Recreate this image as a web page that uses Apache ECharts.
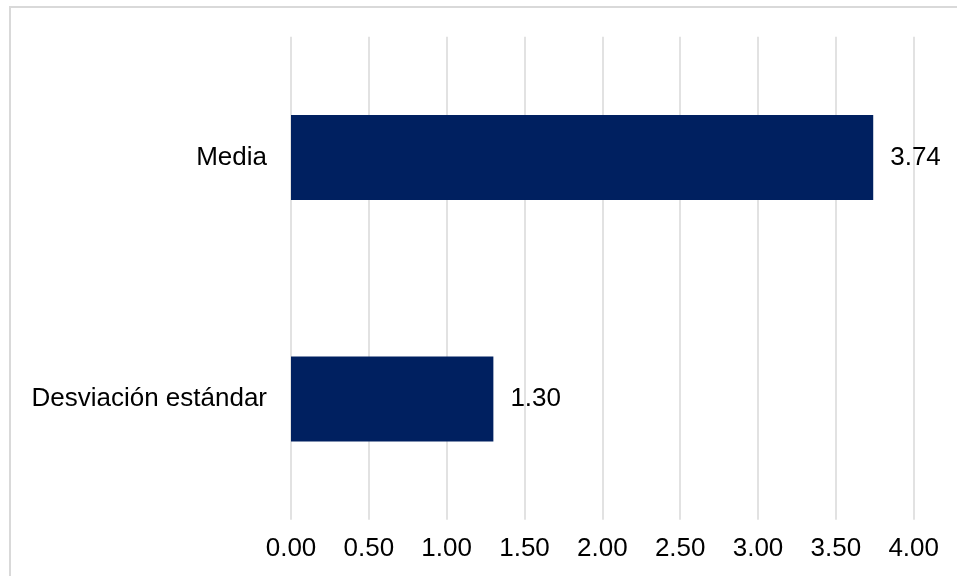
<!DOCTYPE html>
<html>
<head>
<meta charset="utf-8">
<script src="https://cdn.jsdelivr.net/npm/echarts@6/dist/echarts.min.js"></script>
<style>
html,body{margin:0;padding:0;background:#fff;}
#c{width:957px;height:576px;}
</style>
</head>
<body>
<div id="c"></div>
<script>
const categories = ['Desviación estándar', 'Media'];
const values = [1.30, 3.74];
const xTicks = { min: 0, max: 4, interval: 0.5 };

const chart = echarts.init(document.getElementById('c'), null, { renderer: 'canvas' });
const FONT = 'Liberation Sans';
const FS = 26;
chart.setOption({
  animation: false,
  backgroundColor: '#ffffff',
  graphic: [{
    type: 'rect',
    shape: { x: 10, y: 7, width: 1200, height: 1200 },
    style: { fill: 'none', stroke: '#d9d9d9', lineWidth: 2 },
    silent: true
  }],
  grid: { left: 291, right: 43.3, top: 36.75, bottom: 56.25, containLabel: false },
  xAxis: {
    type: 'value',
    min: xTicks.min, max: xTicks.max, interval: xTicks.interval,
    axisLine: { show: false },
    axisTick: { show: false },
    splitLine: { show: true, lineStyle: { color: '#d9d9d9', width: 1.5 } },
    axisLabel: {
      color: '#000', fontFamily: FONT, fontSize: FS, margin: 16,
      formatter: v => v.toFixed(2)
    }
  },
  yAxis: {
    type: 'category',
    data: categories,
    axisLine: { show: false },
    axisTick: { show: false },
    splitLine: { show: false },
    axisLabel: { color: '#000', fontFamily: FONT, fontSize: FS, margin: 24 }
  },
  series: [{
    type: 'bar',
    data: values,
    barWidth: 85,
    itemStyle: { color: '#002060' },
    label: {
      show: true, position: 'right', distance: 17,
      color: '#000', fontFamily: FONT, fontSize: FS,
      formatter: p => p.value.toFixed(2)
    }
  }]
});
</script>
</body>
</html>
